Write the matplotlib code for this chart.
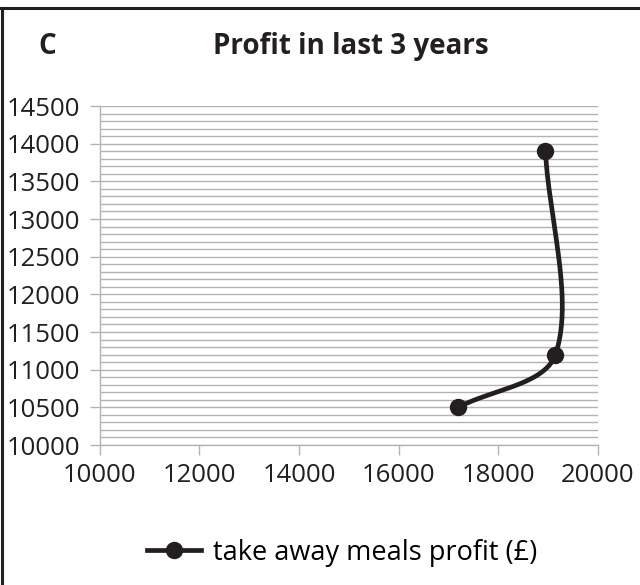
import numpy as np
import matplotlib.pyplot as plt
from matplotlib.lines import Line2D

plt.rcParams['font.family'] = ['Open Sans', 'DejaVu Sans']

# data
x_vals = [17200, 19150, 18950]
y_vals = [10500, 11200, 13900]
series_label = "take away meals profit (£)"
title = "Profit in last 3 years"
panel_label = "C"

x_ticks = [10000, 12000, 14000, 16000, 18000, 20000]
y_ticks = [10000, 10500, 11000, 11500, 12000, 12500, 13000, 13500, 14000, 14500]


def smooth_line(ax, xs, ys, n=80):
    # Excel-like smoothed line, worked out in screen space so the
    # tangent lengths follow the drawn segment lengths
    pts = ax.transData.transform(np.column_stack([xs, ys]).astype(float))
    m = len(pts)
    tang = np.zeros_like(pts)
    for i in range(m):
        a = pts[max(i - 1, 0)]
        b = pts[min(i + 1, m - 1)]
        tang[i] = b - a
    out = []
    t = np.linspace(0, 1, n)[:, None]
    for i in range(m - 1):
        p0, p3 = pts[i], pts[i + 1]
        seg_len = np.hypot(*(p3 - p0))
        def share(j):
            l_prev = np.hypot(*(pts[j] - pts[max(j - 1, 0)]))
            l_next = np.hypot(*(pts[min(j + 1, m - 1)] - pts[j]))
            return l_prev + l_next
        c1 = p0 + tang[i] * seg_len / share(i) / 3
        c2 = p3 - tang[i + 1] * seg_len / share(i + 1) / 3
        seg = ((1 - t) ** 3) * p0 + 3 * ((1 - t) ** 2) * t * c1 \
            + 3 * (1 - t) * t ** 2 * c2 + t ** 3 * p3
        out.append(seg)
    seg = ax.transData.inverted().transform(np.vstack(out))
    return seg[:, 0], seg[:, 1]


fig = plt.figure(figsize=(6.4, 5.85), dpi=100)
ax = fig.add_axes([0.156, 0.2393, 0.778, 0.5795])

grid_col = '#b3b3b3'
ink = '#231f20'

ax.set_xlim(10000, 20000)
ax.set_ylim(10000, 14500)

# horizontal gridlines every 100
for g in range(10000, 14501, 100):
    ax.axhline(g, color=grid_col, lw=1.0, zorder=1)

sx, sy = smooth_line(ax, x_vals, y_vals)
ax.plot(sx, sy, color=ink, lw=3.4, solid_capstyle='round', zorder=3)
ax.plot(x_vals, y_vals, 'o', color=ink, markersize=11.5, zorder=4)

ax.set_xticks(x_ticks)
ax.set_yticks(y_ticks)
ax.tick_params(axis='both', labelsize=18.5, colors=grid_col, labelcolor=ink,
               length=7, width=1.0)
ax.tick_params(axis='y', pad=7)
ax.tick_params(axis='x', pad=6)
for s in ['top', 'right']:
    ax.spines[s].set_visible(False)
for s in ['left', 'bottom']:
    ax.spines[s].set_color(grid_col)
    ax.spines[s].set_linewidth(1.0)

fig.text(0.060, 0.920, panel_label, fontsize=20, fontweight='bold', color=ink,
         ha='left', va='center')
fig.text(0.548, 0.920, title, fontsize=20, fontweight='bold', color=ink,
         ha='center', va='center')

handle = Line2D([], [], color=ink, lw=3.4, marker='o', markersize=11.5)
fig.legend([handle], [series_label], loc='center', bbox_to_anchor=(0.535, 0.055),
           frameon=False, fontsize=19.5, handlelength=2.0, handletextpad=0.45)

# outer frame: only the top and left edges show in the original crop
fig.add_artist(Line2D([0, 1], [1 - 7.5 / 585, 1 - 7.5 / 585], color=ink, lw=2.2,
                      transform=fig.transFigure))
fig.add_artist(Line2D([2 / 640, 2 / 640], [0, 1 - 7.5 / 585], color=ink, lw=2.2,
                      transform=fig.transFigure))

fig.savefig('out.png', dpi=100, facecolor='white')
